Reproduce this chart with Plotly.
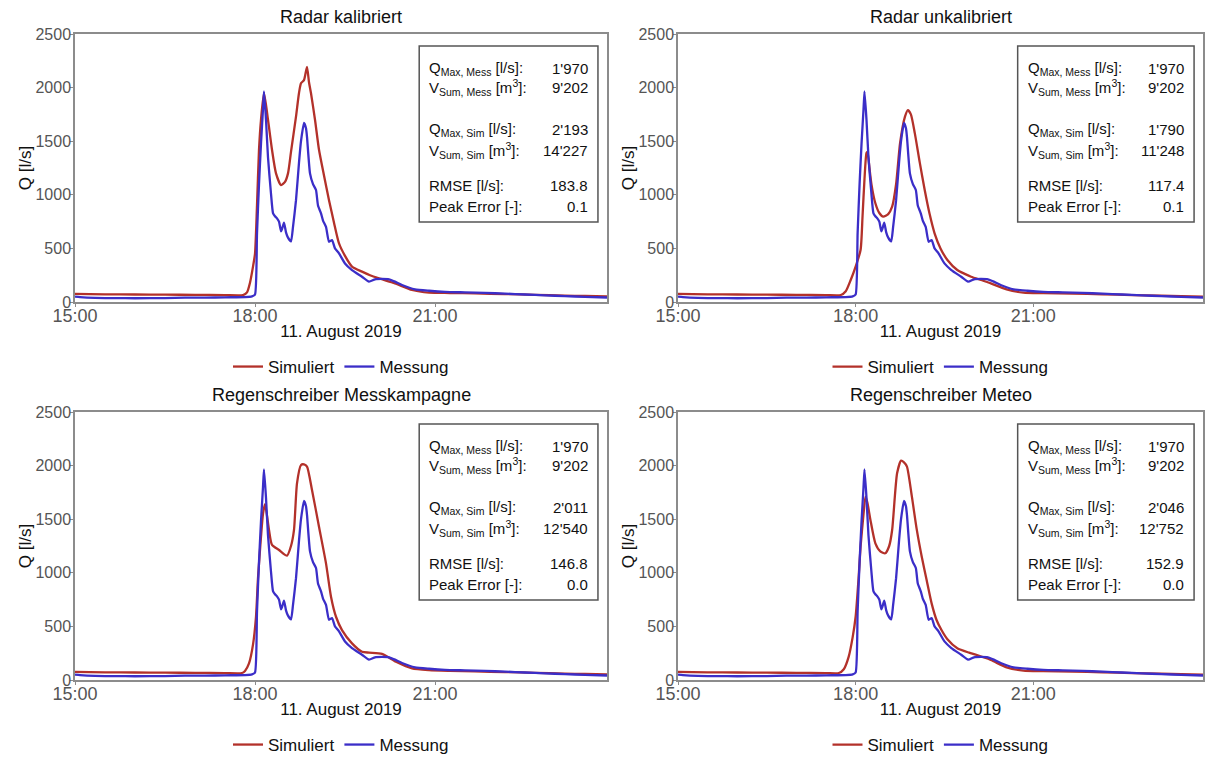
import plotly.graph_objects as go

DAY = "2019-08-11 "

# ---------------- data ----------------
t_mess = ["15:00", "15:05", "15:20", "15:40", "16:00", "16:30", "16:50", "17:10", "17:30", "17:50",
          "17:57", "18:00", "18:02", "18:04", "18:06", "18:08", "18:09", "18:11", "18:13", "18:16",
          "18:18", "18:20", "18:22", "18:24", "18:26", "18:27", "18:29", "18:31", "18:33", "18:36",
          "18:38", "18:41", "18:44", "18:46", "18:49", "18:51", "18:52", "18:55", "18:58", "19:01",
          "19:03", "19:06", "19:08", "19:11", "19:14", "19:17", "19:20", "19:24", "19:30", "19:37",
          "19:47", "19:54", "20:00", "20:07", "20:14", "20:20", "20:27", "20:40", "20:54", "21:10",
          "21:30", "21:50", "22:10", "22:30", "22:50", "23:10", "23:30", "23:52"]
q_mess = [50, 45, 38, 36, 35, 36, 40, 40, 44, 46,
          52, 70, 640, 1100, 1480, 1800, 1965, 1700, 1350, 1010,
          830, 800, 780, 750, 660, 680, 740, 650, 600, 565,
          700, 950, 1300, 1500, 1670, 1620, 1540, 1200, 1100, 1045,
          900, 827, 760, 700, 562, 578, 500, 454, 360, 298,
          236, 190, 212, 215, 212, 190, 159, 118, 105, 95,
          90, 85, 78, 70, 62, 55, 48, 42]

t_sim_kal = ["15:00", "15:30", "16:00", "16:30", "17:00", "17:30", "17:48", "17:52", "17:55", "17:58",
             "18:00", "18:02", "18:04", "18:06", "18:09", "18:13", "18:17", "18:21", "18:26", "18:30",
             "18:33", "18:36", "18:41", "18:44", "18:46", "18:49", "18:52", "18:54", "18:56", "19:00",
             "19:04", "19:09", "19:14", "19:19", "19:24", "19:30", "19:37", "19:47", "19:55", "20:04",
             "20:20", "20:37", "20:54", "21:15", "21:40", "22:10", "22:40", "23:10", "23:30", "23:52"]
q_sim_kal = [75, 72, 70, 68, 67, 65, 65, 90, 180, 330,
             450, 900, 1420, 1700, 1950, 1700, 1420, 1200, 1090, 1120,
             1200, 1400, 1730, 1950, 2040, 2070, 2193, 2050, 1947, 1700,
             1420, 1180, 950, 740, 547, 430, 330, 283, 250, 221,
             174, 112, 87, 84, 80, 74, 67, 60, 56, 52]

t_sim_unkal = ["15:00", "15:30", "16:00", "16:30", "17:00", "17:30", "17:45", "17:50", "17:55", "18:00",
               "18:05", "18:07", "18:09", "18:11", "18:12", "18:14", "18:16", "18:20", "18:24", "18:28",
               "18:33", "18:37", "18:41", "18:45", "18:50", "18:53", "18:56", "19:00", "19:05", "19:10",
               "19:15", "19:20", "19:26", "19:33", "19:43", "19:50", "19:57", "20:07", "20:17", "20:33",
               "20:50", "21:10", "21:40", "22:10", "22:40", "23:10", "23:30", "23:52"]
q_sim_unkal = [75, 72, 70, 68, 67, 65, 65, 100, 205, 330,
               485, 800, 1150, 1390, 1400, 1250, 1100, 921, 830, 796,
               820, 889, 1100, 1480, 1729, 1790, 1750, 1573, 1300, 1045,
               820, 641, 500, 392, 298, 265, 236, 205, 174, 118,
               87, 82, 78, 72, 65, 59, 55, 50]

t_sim_mk = ["15:00", "15:30", "16:00", "16:30", "17:00", "17:30", "17:47", "17:50", "17:54", "17:58",
            "18:01", "18:03", "18:06", "18:08", "18:10", "18:14", "18:17", "18:24", "18:32", "18:36",
            "18:39", "18:42", "18:46", "18:49", "18:52", "18:57", "19:04", "19:11", "19:16", "19:21",
            "19:27", "19:37", "19:47", "19:54", "20:07", "20:21", "20:37", "20:54", "21:15", "21:40",
            "22:10", "22:40", "23:10", "23:30", "23:52"]
q_sim_mk = [75, 72, 70, 68, 67, 65, 65, 85, 155, 330,
            590, 950, 1337, 1550, 1640, 1400, 1260, 1213, 1160, 1250,
            1400, 1835, 2006, 2011, 1990, 1772, 1430, 1088, 777, 590,
            466, 342, 264, 255, 243, 171, 109, 93, 86, 80,
            74, 67, 60, 56, 52]

t_sim_met = ["15:00", "15:30", "16:00", "16:30", "17:00", "17:30", "17:43", "17:48", "17:53", "17:57",
             "18:00", "18:03", "18:05", "18:08", "18:10", "18:12", "18:15", "18:20", "18:25", "18:30",
             "18:34", "18:37", "18:42", "18:46", "18:49", "18:52", "18:57", "19:02", "19:07", "19:12",
             "19:17", "19:22", "19:27", "19:33", "19:43", "19:55", "20:03", "20:17", "20:33", "20:50",
             "21:10", "21:40", "22:10", "22:40", "23:10", "23:30", "23:52"]
q_sim_met = [75, 72, 70, 68, 67, 65, 65, 100, 218, 400,
             590, 950, 1243, 1550, 1710, 1650, 1493, 1275, 1200, 1182,
             1250, 1399, 1928, 2046, 2030, 1990, 1710, 1400, 1150, 930,
             715, 560, 466, 380, 296, 255, 233, 187, 118, 87,
             82, 78, 72, 65, 59, 55, 50]

panel_titles = ["Radar kalibriert", "Radar unkalibriert",
                "Regenschreiber Messkampagne", "Regenschreiber Meteo"]
sim_series = [(t_sim_kal, q_sim_kal), (t_sim_unkal, q_sim_unkal),
              (t_sim_mk, q_sim_mk), (t_sim_met, q_sim_met)]

stat_labels = ["Q<sub>Max, Mess</sub> [l/s]:", "V<sub>Sum, Mess</sub> [m<sup>3</sup>]:",
               "Q<sub>Max, Sim</sub> [l/s]:", "V<sub>Sum, Sim</sub> [m<sup>3</sup>]:",
               "RMSE [l/s]:", "Peak Error [-]:"]
stat_values = [
    ["1'970", "9'202", "2'193", "14'227", "183.8", "0.1"],
    ["1'970", "9'202", "1'790", "11'248", "117.4", "0.1"],
    ["1'970", "9'202", "2'011", "12'540", "146.8", "0.0"],
    ["1'970", "9'202", "2'046", "12'752", "152.9", "0.0"],
]

x_ticks = ["15:00", "18:00", "21:00"]
y_ticks = [0, 500, 1000, 1500, 2000, 2500]

# ---------------- styling ----------------
RED = "#b3312a"
BLUE = "#3b2ec8"
FONT = "Liberation Sans, Arial, sans-serif"
GRID_COL = "#8c8c8c"
TICK_COL = "#555555"

W, H = 1205, 757
x_dom = [[75 / W, 607 / W], [678 / W, 1203 / W], [75 / W, 607 / W], [678 / W, 1203 / W]]
y_dom = [[1 - 302 / H, 1 - 34 / H], [1 - 302 / H, 1 - 34 / H],
         [1 - 680 / H, 1 - 412 / H], [1 - 680 / H, 1 - 412 / H]]

def ts(lst):
    return [DAY + s for s in lst]

fig = go.Figure()
layout = dict(
    width=W, height=H,
    margin=dict(l=0, r=0, t=0, b=0, autoexpand=False),
    paper_bgcolor="white", plot_bgcolor="white",
    font=dict(family=FONT, size=17, color="#222222"),
    showlegend=True,
)
annotations = []
shapes = []

line_rows = [0.873, 0.799, 0.642, 0.567, 0.433, 0.358]

for i in range(4):
    n = "" if i == 0 else str(i + 1)
    xa, ya = "x" + n, "y" + n
    leg = "legend" if i == 0 else "legend" + str(i + 1)
    ts_sim, qs_sim = sim_series[i]
    fig.add_trace(go.Scatter(x=ts(ts_sim), y=qs_sim, mode="lines", name="Simuliert",
                             line=dict(color=RED, width=2.3, shape="spline", smoothing=0.6),
                             xaxis=xa, yaxis=ya, legend=leg))
    fig.add_trace(go.Scatter(x=ts(t_mess), y=q_mess, mode="lines", name="Messung",
                             line=dict(color=BLUE, width=2.3, shape="spline", smoothing=0.5),
                             xaxis=xa, yaxis=ya, legend=leg))

    layout["xaxis" + n] = dict(
        domain=x_dom[i], anchor=ya, type="date", automargin=False,
        range=[DAY + "15:00", DAY + "23:52"],
        tickvals=ts(x_ticks), ticktext=x_ticks,
        ticks="outside", ticklen=3, tickcolor=GRID_COL,
        ticklabelstandoff=-6,
        tickfont=dict(size=18, color=TICK_COL, family=FONT),
        showline=True, linecolor=GRID_COL, linewidth=1.5, mirror=True,
        showgrid=False, zeroline=False,
        title=dict(text="11. August 2019", font=dict(size=17, color="#111111"), standoff=0),
    )
    layout["yaxis" + n] = dict(
        domain=y_dom[i], anchor=xa, range=[0, 2500], automargin=False,
        tickvals=y_ticks,
        ticks="outside", ticklen=3, tickcolor=GRID_COL,
        ticklabelstandoff=-4,
        tickfont=dict(size=16, color=TICK_COL, family=FONT),
        showline=True, linecolor=GRID_COL, linewidth=1.5, mirror=True,
        showgrid=False, zeroline=False,
        title=dict(text="Q [l/s]", font=dict(size=17, color="#111111"), standoff=0),
    )

    cx = (x_dom[i][0] + x_dom[i][1]) / 2
    layout[leg] = dict(
        orientation="h", x=cx, xanchor="center",
        y=(1 - 367 / H) if i < 2 else (1 - 745 / H), yanchor="middle",
        font=dict(size=17, color="#111111"), itemwidth=30,
        bgcolor="rgba(0,0,0,0)", tracegroupgap=0,
    )

    annotations.append(dict(
        text=panel_titles[i], xref="paper", yref="paper",
        x=cx, y=y_dom[i][1] + 17 / H, xanchor="center", yanchor="middle",
        showarrow=False, font=dict(size=18, color="#111111"),
    ))

    shapes.append(dict(
        type="rect", xref=xa + " domain", yref=ya + " domain",
        x0=0.647, x1=0.983, y0=0.2985, y1=0.955,
        line=dict(color="#555555", width=1.5), fillcolor="white", layer="above",
    ))
    for r, yv in enumerate(line_rows):
        annotations.append(dict(
            text=stat_labels[r], xref=xa + " domain", yref=ya + " domain",
            x=0.662, y=yv, xanchor="left", yanchor="middle", showarrow=False,
            font=dict(size=15, color="#111111"),
        ))
        annotations.append(dict(
            text=stat_values[i][r], xref=xa + " domain", yref=ya + " domain",
            x=0.968, y=yv, xanchor="right", yanchor="middle", showarrow=False,
            font=dict(size=15, color="#111111"),
        ))

layout["annotations"] = annotations
layout["shapes"] = shapes
fig.update_layout(**layout)
fig.write_html("out.html", config={"displayModeBar": False},
               post_script="document.body.style.margin='0px';")
